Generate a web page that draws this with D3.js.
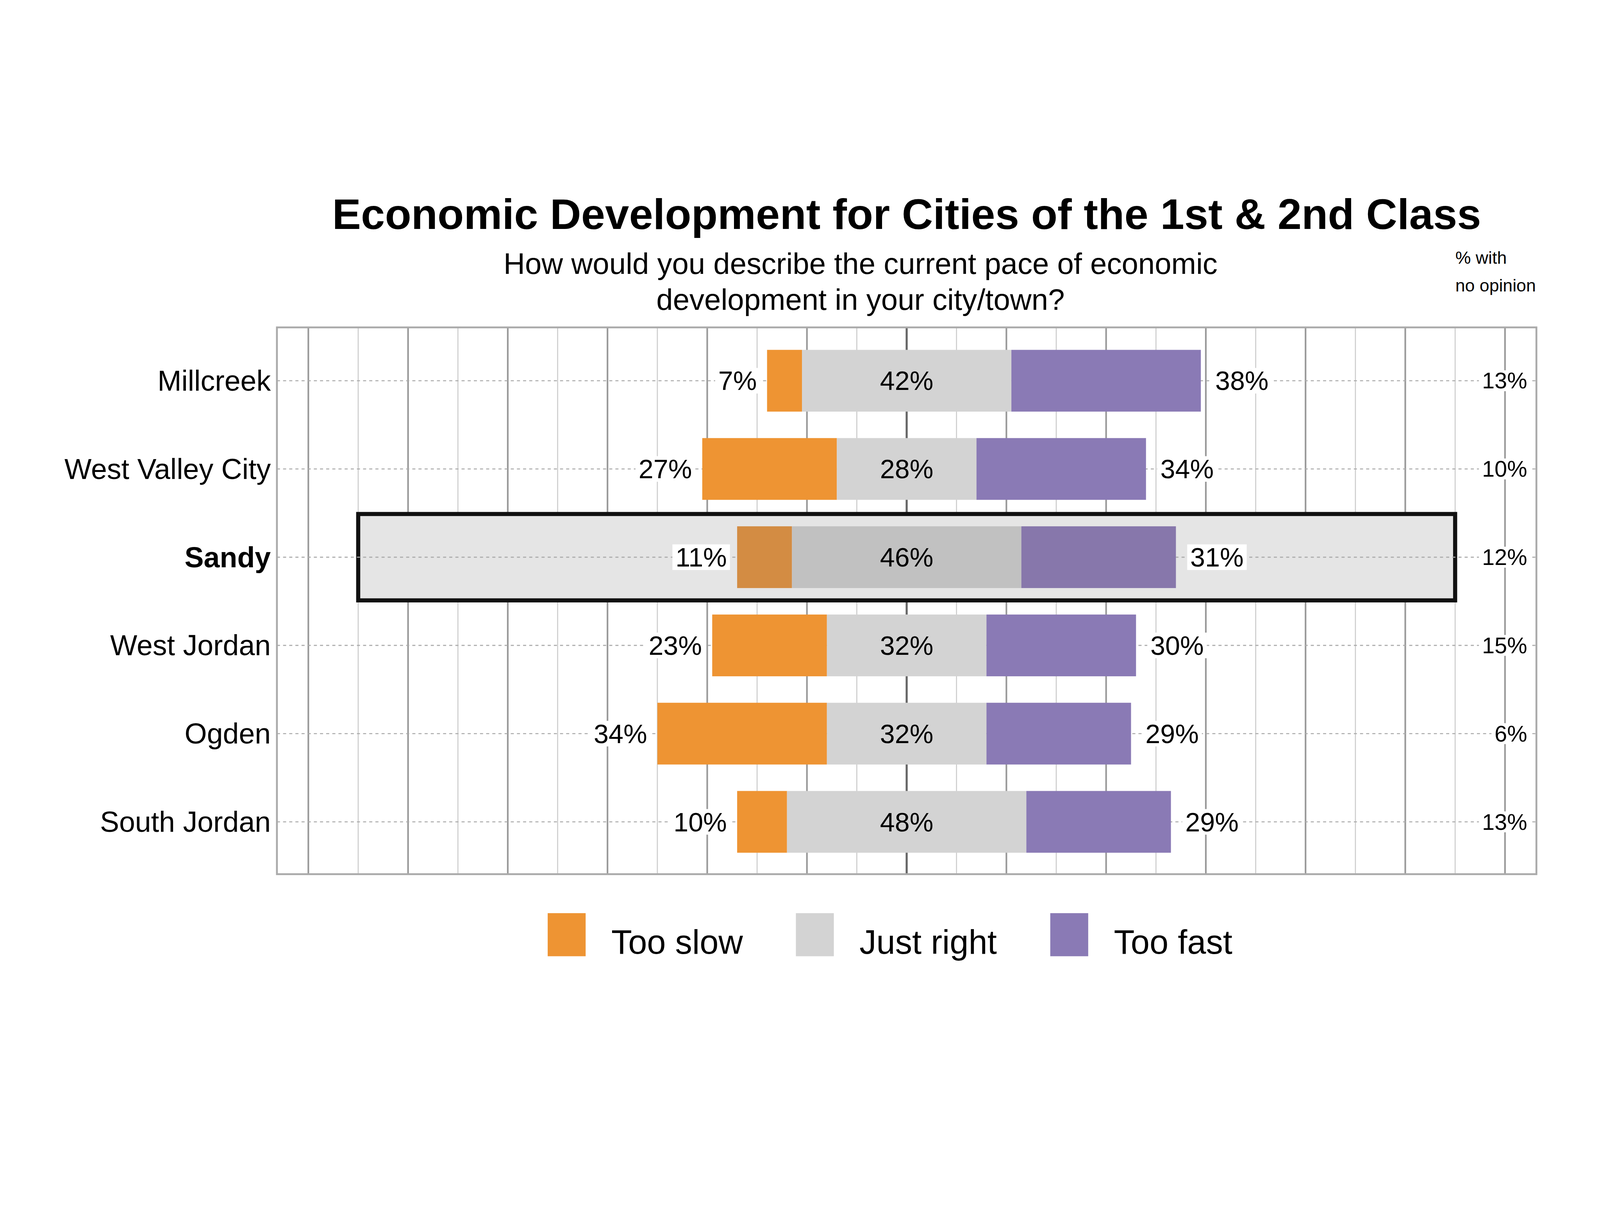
<!DOCTYPE html>
<html><head><meta charset="utf-8">
<script src="https://cdn.jsdelivr.net/npm/d3@7"></script>
<style>html,body{margin:0;padding:0;background:#fff;overflow:hidden;width:100%;height:100%}svg{display:block}</style></head>
<body><svg id="c"></svg>
<script>
const cities=["Millcreek","West Valley City","Sandy","West Jordan","Ogden","South Jordan"];
const tooSlow=[7,27,11,23,34,10];
const justRight=[42,28,46,32,32,48];
const tooFast=[38,34,31,30,29,29];
const noOpinion=[13,10,12,15,6,13];
const highlight="Sandy";
const seriesNames=["Too slow","Just right","Too fast"];
const colors=["#EE9433","#D3D3D3","#8A7AB5"];
const hiColors=["#D38C43","#C1C1C1","#8777AB"];

const svg=d3.select("#c").attr("viewBox","0 0 1560 854").attr("preserveAspectRatio","xMidYMid meet")
  .style("width","100vw").style("height","100vh");
const g=svg.append("g");
const F="Liberation Sans, Arial, sans-serif";
const L=270,R=1498,T=152,B=685;
const x=d3.scaleLinear().domain([-126.3,126.3]).range([L,R]);
const y=d3.scaleBand().domain(cities).range([161,677]).paddingInner(0.3).paddingOuter(0.15);

d3.range(-120,121,10).forEach(v=>{
  const major=v%20===0;
  g.append("line").attr("x1",x(v)).attr("x2",x(v)).attr("y1",T).attr("y2",B)
   .attr("stroke",v===0?"#666":major?"#999":"#ccc").attr("stroke-width",v===0?2:major?1.6:1);
});
g.append("rect").attr("x",L).attr("y",T).attr("width",R-L).attr("height",B-T)
 .attr("fill","none").attr("stroke","#aaa").attr("stroke-width",1.8);

g.append("rect").attr("x",x(-110)).attr("y",y(highlight)-12).attr("width",x(110)-x(-110))
 .attr("height",y.bandwidth()+24).attr("fill","#E5E5E5").attr("stroke","#111").attr("stroke-width",4);

cities.forEach(c=>{
  const cy=y(c)+y.bandwidth()/2;
  g.append("line").attr("x1",L).attr("x2",R).attr("y1",cy).attr("y2",cy)
   .attr("stroke","#aaa").attr("stroke-dasharray","3,3").attr("stroke-width",1);
});

function label(tx,ty,text,anchor,size){
  const t=g.append("text").attr("x",tx).attr("y",ty).attr("text-anchor",anchor)
   .attr("dominant-baseline","central").attr("font-family",F).attr("font-size",size).text(text);
  const bb=t.node().getBBox();
  g.insert("rect",()=>t.node()).attr("x",bb.x-3).attr("y",bb.y+2).attr("width",bb.width+6)
   .attr("height",bb.height-4).attr("fill","#fff");
}

cities.forEach((c,i)=>{
  const cs=c===highlight?hiColors:colors;
  const yy=y(c),h=y.bandwidth(),cy=yy+h/2;
  const j=justRight[i];
  const segs=[[-j/2-tooSlow[i],-j/2],[-j/2,j/2],[j/2,j/2+tooFast[i]]];
  segs.forEach((s,k)=>g.append("rect").attr("x",x(s[0])).attr("y",yy)
     .attr("width",x(s[1])-x(s[0])).attr("height",h).attr("fill",cs[k]));
  label(x(segs[0][0])-10,cy,tooSlow[i]+"%","end",26);
  g.append("text").attr("x",x(0)).attr("y",cy).attr("text-anchor","middle")
   .attr("dominant-baseline","central").attr("font-family",F).attr("font-size",26).text(j+"%");
  label(x(segs[2][1])+14,cy,tooFast[i]+"%","start",26);
  label(1489,cy,noOpinion[i]+"%","end",22);
  g.append("text").attr("x",264).attr("y",cy).attr("text-anchor","end").attr("dominant-baseline","central")
   .attr("font-family",F).attr("font-size",28).attr("font-weight",c===highlight?"bold":"normal").text(c);
});

g.append("text").attr("x",884).attr("y",56).attr("text-anchor","middle").attr("font-family",F)
 .attr("font-size",42).attr("font-weight","bold").text("Economic Development for Cities of the 1st & 2nd Class");
g.append("text").attr("x",839).attr("y",100).attr("text-anchor","middle").attr("font-family",F)
 .attr("font-size",29).text("How would you describe the current pace of economic");
g.append("text").attr("x",839).attr("y",135).attr("text-anchor","middle").attr("font-family",F)
 .attr("font-size",29).text("development in your city/town?");
g.append("text").attr("x",1419).attr("y",90).attr("font-family",F).attr("font-size",17).text("% with");
g.append("text").attr("x",1419).attr("y",117).attr("font-family",F).attr("font-size",17).text("no opinion");

const lx=[534,776,1024];
seriesNames.forEach((n,k)=>{
  g.append("rect").attr("x",lx[k]).attr("y",723).attr("width",37).attr("height",42).attr("fill",colors[k]);
  g.append("text").attr("x",lx[k]+62).attr("y",751).attr("dominant-baseline","central")
   .attr("font-family",F).attr("font-size",33).text(n);
});
</script></body></html>
